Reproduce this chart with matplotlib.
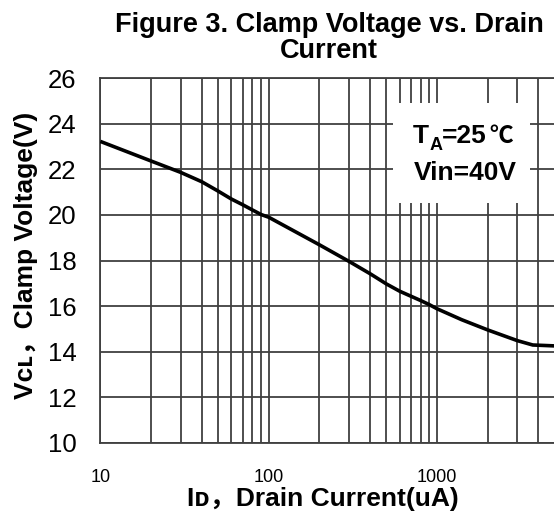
import matplotlib
matplotlib.use('Agg')
import matplotlib.pyplot as plt
from matplotlib.patches import Rectangle

# drain current (uA) and clamp voltage (V)
current = [10, 20, 30, 40, 50, 60, 70, 80, 90, 100, 200, 300, 400, 500, 600,
           700, 800, 900, 1000, 1400, 2000, 3000, 3700, 5000]
vclamp = [23.23, 22.37, 21.87, 21.46, 21.05, 20.7, 20.45, 20.22, 20.02, 19.9,
          18.69, 17.96, 17.42, 16.97, 16.65, 16.43, 16.24, 16.06, 15.88, 15.4,
          14.95, 14.48, 14.29, 14.25]
xticks = [10, 100, 1000]
xticklabels = ['10', '100', '1000']
yticks = [10, 12, 14, 16, 18, 20, 22, 24, 26]

fam = ['Liberation Sans', 'DejaVu Sans', 'Noto Sans CJK SC']
plt.rcParams['font.family'] = fam
grid_c = '#404040'

fig = plt.figure(figsize=(5.54, 5.15), dpi=100)
ax = fig.add_axes([100.3 / 554, 1 - 442.7 / 515, 1 - 100.3 / 554, (442.7 - 78.3) / 515])

ax.plot(current, vclamp, color='black', lw=2.6, zorder=4, solid_capstyle='butt')

ax.set_xscale('log')
ax.set_xlim(10, 10 ** (1 + (554 - 100.3) / 168.4))
ax.set_ylim(10, 26)
ax.set_yticks(yticks)
ax.set_xticks(xticks)
ax.set_xticklabels(xticklabels, fontsize=13)
ax.xaxis.set_minor_formatter(plt.NullFormatter())
ax.tick_params(axis='both', which='both', length=0)
ax.tick_params(axis='y', labelsize=18.5, pad=17)
ax.tick_params(axis='x', pad=19)
ax.grid(True, which='both', axis='x', color=grid_c, lw=1.3)
ax.grid(True, which='major', axis='y', color=grid_c, lw=1.3)
ax.set_axisbelow(True)
for s in ['top', 'left', 'bottom']:
    ax.spines[s].set_color(grid_c)
    ax.spines[s].set_linewidth(1.3)
ax.spines['right'].set_visible(False)

# white box behind the conditions text
box = Rectangle((393 / 554, 1 - 203 / 515), (530 - 393) / 554, 100 / 515,
                transform=fig.transFigure, facecolor='white', edgecolor='none', zorder=3)
ax.add_patch(box)
fig.text(413 / 554, 1 - 136 / 515, 'T', fontsize=19, fontweight='bold', ha='left', va='center')
fig.text(429.5 / 554, 1 - 146 / 515, 'A', fontsize=13, fontweight='bold', ha='left', va='center')
fig.text(442 / 554, 1 - 136 / 515, '=25', fontsize=19, fontweight='bold', ha='left', va='center')
fig.text(489 / 554, 1 - 136 / 515, '℃', fontsize=17, fontweight='bold', ha='left', va='center',
         family=['Noto Sans CJK SC'])
fig.text(465 / 554, 1 - 173.5 / 515, 'Vin=40V', fontsize=19, fontweight='bold', ha='center', va='center')

fig.text(329 / 554, 1 - 38 / 515, 'Figure 3. Clamp Voltage vs. Drain\nCurrent', fontsize=19.5,
         fontweight='bold', ha='center', va='center', linespacing=1.0)
fig.text(323 / 554, 1 - 499 / 515, 'Iᴅ，Drain Current(uA)', fontsize=19, fontweight='bold',
         ha='center', va='center')
fig.text(26 / 554, 1 - 255 / 515, 'Vᴄʟ，Clamp Voltage(V)', fontsize=19, fontweight='bold',
         ha='center', va='center', rotation=90)

fig.savefig('out.png', dpi=100)
